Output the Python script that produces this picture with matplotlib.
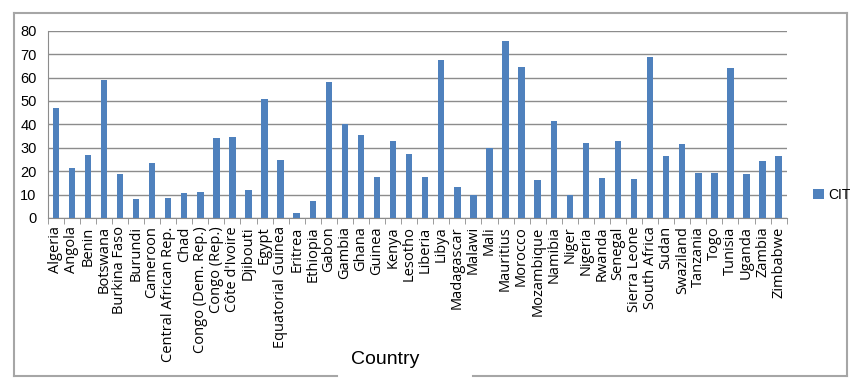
import numpy as np
import matplotlib.pyplot as plt
from matplotlib.lines import Line2D

# --------------------------------
# Data
# --------------------------------
countries = [
    "Algeria", "Angola", "Benin", "Botswana", "Burkina Faso", "Burundi",
    "Cameroon", "Central African Rep.", "Chad", "Congo (Dem. Rep.)",
    "Congo (Rep.)", "Côte d'Ivoire", "Djibouti", "Egypt", "Equatorial Guinea",
    "Eritrea", "Ethiopia", "Gabon", "Gambia", "Ghana", "Guinea", "Kenya",
    "Lesotho", "Liberia", "Libya", "Madagascar", "Malawi", "Mali",
    "Mauritius", "Morocco", "Mozambique", "Namibia", "Niger", "Nigeria",
    "Rwanda", "Senegal", "Sierra Leone", "South Africa", "Sudan",
    "Swaziland", "Tanzania", "Togo", "Tunisia", "Uganda", "Zambia", "Zimbabwe",
]
cit = [
    47.0, 21.5, 27.0, 59.0, 18.7, 8.0,
    23.7, 8.5, 10.7, 11.2,
    34.0, 34.5, 11.8, 50.8, 24.8,
    2.0, 7.2, 58.2, 40.0, 35.5, 17.6, 32.8,
    27.4, 17.6, 67.4, 13.4, 9.8, 29.9,
    75.5, 64.7, 16.1, 41.5, 9.8, 32.2,
    17.1, 32.8, 16.5, 68.9, 26.4,
    31.8, 19.2, 19.2, 64.1, 18.8, 24.2, 26.4,
]
series_name = "CIT"

# --------------------------------
# Plot
# --------------------------------
plt.rcParams['font.family'] = ['Open Sans', 'DejaVu Sans']

fig = plt.figure(figsize=(8.5, 3.89), dpi=100)
ax = fig.add_axes([0.0561, 0.4396, 0.8694, 0.4814])

x = np.arange(len(countries))
ax.bar(x, cit, width=0.4, color="#4F81BD", label=series_name, zorder=3)

ax.set_xlim(-0.5, len(countries) - 0.5)
ax.set_ylim(0, 80)
ax.set_yticks(np.arange(0, 81, 10))
ax.yaxis.grid(True, color="#8c8c8c", linewidth=1.0, zorder=0)

for s in ["top", "right"]:
    ax.spines[s].set_visible(False)
for s in ["left", "bottom"]:
    ax.spines[s].set_color("#8c8c8c")

ax.set_xticks(x)
ax.set_xticklabels(countries, rotation=90, fontsize=10.5)
ax.set_xticks(np.arange(-0.5, len(countries)), minor=True)
ax.tick_params(axis="x", which="major", length=0, pad=6)
ax.tick_params(axis="x", which="minor", length=4, color="#8c8c8c")
ax.tick_params(axis="y", length=0, labelsize=10.5, pad=8)
for lab in ax.get_yticklabels():
    lab.set_family(['Liberation Sans', 'DejaVu Sans'])

fig.text(0.453, 0.075, "Country", fontsize=14, ha="center", va="center",
         family=['Liberation Sans', 'DejaVu Sans'])

fig.legend(loc="center left", bbox_to_anchor=(0.942, 0.499), frameon=False,
           handlelength=0.8, handleheight=0.8, handletextpad=0.3,
           prop={'family': ['Liberation Sans', 'DejaVu Sans'], 'size': 10})

# outer frame with a gap for the axis title
W, H = 850, 389
def fx(px):
    return px / W
def fy(py):
    return 1 - py / H
c = "#a6a6a6"
fig.add_artist(Line2D([fx(14), fx(847)], [fy(13), fy(13)], color=c, lw=1.5))
fig.add_artist(Line2D([fx(14), fx(14)], [fy(13), fy(376)], color=c, lw=1.5))
fig.add_artist(Line2D([fx(847), fx(847)], [fy(13), fy(376)], color=c, lw=1.5))
fig.add_artist(Line2D([fx(14), fx(337)], [fy(376), fy(376)], color=c, lw=1.5))
fig.add_artist(Line2D([fx(473), fx(847)], [fy(376), fy(376)], color=c, lw=1.5))

fig.savefig("out.png", dpi=100)
